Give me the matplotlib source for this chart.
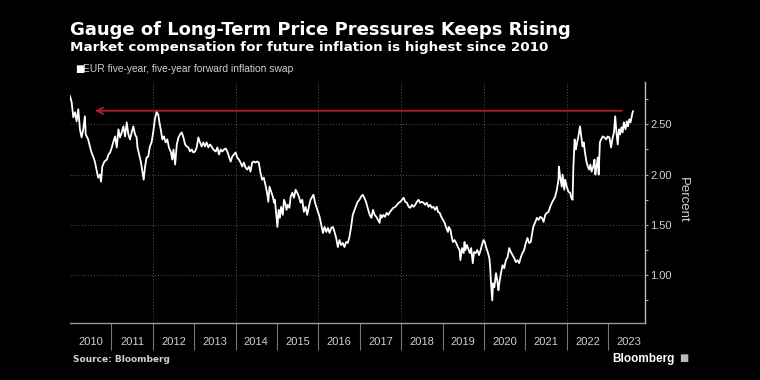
import matplotlib
matplotlib.use('Agg')
import matplotlib.pyplot as plt
from matplotlib.ticker import MultipleLocator, FixedLocator, NullFormatter

# Dados (ano decimal, swap de inflação 5y5y EUR em %)
anos = [
    2010.00, 2010.04, 2010.08, 2010.12, 2010.16, 2010.20, 2010.24, 2010.28, 2010.32, 2010.36,
    2010.38, 2010.44, 2010.48, 2010.52, 2010.56, 2010.60, 2010.64, 2010.68, 2010.72, 2010.75,
    2010.78, 2010.83, 2010.89, 2010.93, 2010.97,
    2011.01, 2011.05, 2011.09, 2011.13, 2011.17, 2011.21, 2011.25, 2011.29, 2011.33, 2011.37,
    2011.41, 2011.45, 2011.49, 2011.53, 2011.57, 2011.61, 2011.63, 2011.67, 2011.71, 2011.75,
    2011.78, 2011.81, 2011.85, 2011.89, 2011.93, 2011.97,
    2012.01, 2012.05, 2012.09, 2012.13, 2012.16, 2012.20, 2012.23, 2012.27, 2012.31, 2012.35,
    2012.39, 2012.44, 2012.47, 2012.50, 2012.54, 2012.58, 2012.62, 2012.66, 2012.70, 2012.74,
    2012.78, 2012.82, 2012.86, 2012.90, 2012.94, 2012.98,
    2013.02, 2013.06, 2013.10, 2013.14, 2013.18, 2013.22, 2013.26, 2013.30, 2013.34, 2013.38,
    2013.42, 2013.46, 2013.52, 2013.56, 2013.60, 2013.64, 2013.68, 2013.72, 2013.76, 2013.80,
    2013.84, 2013.88, 2013.92, 2013.96,
    2014.00, 2014.04, 2014.08, 2014.12, 2014.16, 2014.20, 2014.24, 2014.28, 2014.32, 2014.36,
    2014.40, 2014.44, 2014.48, 2014.52, 2014.56, 2014.60, 2014.64, 2014.68, 2014.72, 2014.76,
    2014.79, 2014.82, 2014.86, 2014.90, 2014.93, 2014.95, 2014.98,
    2015.01, 2015.04, 2015.07, 2015.10, 2015.14, 2015.17, 2015.21, 2015.23, 2015.26, 2015.30,
    2015.33, 2015.37, 2015.41, 2015.45, 2015.49, 2015.53, 2015.57, 2015.61, 2015.65, 2015.69,
    2015.73, 2015.77, 2015.81, 2015.85, 2015.88, 2015.92, 2015.95, 2015.99,
    2016.03, 2016.07, 2016.11, 2016.15, 2016.19, 2016.23, 2016.27, 2016.31, 2016.35, 2016.39,
    2016.43, 2016.47, 2016.51, 2016.55, 2016.59, 2016.63, 2016.67, 2016.71, 2016.75, 2016.79,
    2016.83, 2016.92, 2016.95, 2016.99,
    2017.03, 2017.07, 2017.11, 2017.15, 2017.19, 2017.24, 2017.28, 2017.32, 2017.36, 2017.40,
    2017.44, 2017.48, 2017.50, 2017.53, 2017.57, 2017.61, 2017.65, 2017.69, 2017.73, 2017.77,
    2017.81, 2017.86, 2017.90, 2017.94, 2017.98,
    2018.02, 2018.06, 2018.10, 2018.14, 2018.18, 2018.22, 2018.26, 2018.30, 2018.34, 2018.38,
    2018.42, 2018.46, 2018.50, 2018.54, 2018.58, 2018.62, 2018.66, 2018.70, 2018.74, 2018.78,
    2018.82, 2018.86, 2018.89, 2018.93, 2018.97,
    2019.01, 2019.05, 2019.09, 2019.13, 2019.15, 2019.19, 2019.22, 2019.25, 2019.29, 2019.33,
    2019.37, 2019.41, 2019.43, 2019.47, 2019.51, 2019.53, 2019.55, 2019.59, 2019.63, 2019.66,
    2019.69, 2019.73, 2019.76, 2019.80, 2019.84, 2019.88, 2019.92, 2019.95, 2019.99,
    2020.02, 2020.05, 2020.09, 2020.13, 2020.15, 2020.17, 2020.20, 2020.22, 2020.25, 2020.29,
    2020.32, 2020.35, 2020.37, 2020.41, 2020.45, 2020.49, 2020.53, 2020.57, 2020.61, 2020.65,
    2020.69, 2020.73, 2020.77, 2020.81, 2020.85, 2020.89, 2020.93, 2020.97,
    2021.01, 2021.05, 2021.09, 2021.13, 2021.15, 2021.19, 2021.24, 2021.28, 2021.32, 2021.36,
    2021.40, 2021.44, 2021.48, 2021.52, 2021.56, 2021.60, 2021.64, 2021.68, 2021.72, 2021.76,
    2021.80, 2021.81, 2021.84, 2021.88, 2021.90, 2021.94, 2021.96,
    2022.00, 2022.04, 2022.08, 2022.10, 2022.14, 2022.16, 2022.19, 2022.22, 2022.25, 2022.28,
    2022.32, 2022.35, 2022.38, 2022.41, 2022.44, 2022.48, 2022.51, 2022.54, 2022.57, 2022.60,
    2022.64, 2022.67, 2022.69, 2022.72, 2022.75, 2022.77, 2022.80, 2022.83, 2022.87, 2022.91,
    2022.95, 2022.99,
    2023.03, 2023.07, 2023.10, 2023.14, 2023.17, 2023.20, 2023.23, 2023.26, 2023.29, 2023.32,
    2023.35, 2023.38, 2023.42, 2023.45, 2023.48, 2023.51, 2023.54, 2023.59, 2023.60,
]
swap = [
    2.78, 2.72, 2.57, 2.62, 2.53, 2.65, 2.45, 2.37, 2.45, 2.58,
    2.40, 2.35, 2.28, 2.22, 2.18, 2.13, 2.05, 1.97, 2.00, 1.93,
    2.08, 2.13, 2.15, 2.20, 2.22,
    2.27, 2.33, 2.38, 2.27, 2.45, 2.37, 2.42, 2.48, 2.38, 2.52,
    2.40, 2.35, 2.42, 2.48, 2.40, 2.37, 2.27, 2.20, 2.13, 2.03,
    1.95, 2.07, 2.17, 2.18, 2.28, 2.32,
    2.42, 2.55, 2.62, 2.60, 2.52, 2.43, 2.35, 2.38, 2.32, 2.35,
    2.27, 2.22, 2.15, 2.25, 2.10, 2.30, 2.37, 2.40, 2.42, 2.37,
    2.30, 2.28, 2.27, 2.23, 2.25, 2.22,
    2.23, 2.27, 2.37, 2.32, 2.28, 2.32, 2.28, 2.32, 2.27, 2.30,
    2.28, 2.25, 2.23, 2.27, 2.20, 2.25, 2.23, 2.25, 2.26, 2.23,
    2.18, 2.13, 2.18, 2.20,
    2.22, 2.17, 2.15, 2.12, 2.08, 2.12, 2.07, 2.05, 2.08, 2.03,
    2.12, 2.13, 2.12, 2.13, 2.12, 2.02, 1.95, 1.97, 1.90, 1.82,
    1.73, 1.88, 1.83, 1.78, 1.72, 1.75, 1.62,
    1.48, 1.65, 1.57, 1.68, 1.60, 1.75, 1.70, 1.65, 1.70, 1.67,
    1.78, 1.82, 1.77, 1.85, 1.82, 1.78, 1.72, 1.75, 1.63, 1.68,
    1.60, 1.68, 1.75, 1.78, 1.80, 1.72, 1.68, 1.63,
    1.58, 1.50, 1.42, 1.48, 1.43, 1.47, 1.42, 1.47, 1.48, 1.43,
    1.37, 1.28, 1.35, 1.30, 1.32, 1.28, 1.33, 1.32, 1.38, 1.48,
    1.60, 1.70, 1.73, 1.75,
    1.78, 1.80, 1.77, 1.73, 1.67, 1.60, 1.57, 1.65, 1.60, 1.58,
    1.55, 1.52, 1.60, 1.57, 1.60, 1.58, 1.62, 1.60, 1.63, 1.65,
    1.67, 1.68, 1.70, 1.72, 1.73,
    1.75, 1.77, 1.73, 1.72, 1.68, 1.67, 1.70, 1.68, 1.70, 1.73,
    1.75, 1.72, 1.73, 1.72, 1.70, 1.72, 1.68, 1.70, 1.67, 1.68,
    1.65, 1.68, 1.63, 1.62, 1.58,
    1.55, 1.52, 1.47, 1.43, 1.48, 1.45, 1.38, 1.33, 1.35, 1.32,
    1.28, 1.25, 1.15, 1.27, 1.22, 1.33, 1.25, 1.30, 1.25, 1.22,
    1.27, 1.12, 1.23, 1.22, 1.25, 1.20, 1.25, 1.30, 1.35,
    1.33, 1.28, 1.23, 1.17, 1.08, 0.92, 0.75, 0.92, 0.88, 1.02,
    0.95, 0.85, 0.92, 1.02, 1.10, 1.07, 1.15, 1.18, 1.27, 1.23,
    1.20, 1.17, 1.13, 1.15, 1.12, 1.18, 1.22, 1.25,
    1.32, 1.37, 1.32, 1.33, 1.38, 1.48, 1.53, 1.57, 1.55, 1.58,
    1.57, 1.53, 1.60, 1.62, 1.63, 1.68, 1.72, 1.75, 1.78, 1.85,
    1.95, 2.08, 1.98, 1.88, 2.00, 1.85, 1.95,
    1.88, 1.83, 1.82, 1.78, 1.75, 2.08, 2.35, 2.25, 2.32, 2.38,
    2.48, 2.38, 2.28, 2.32, 2.22, 2.12, 2.08, 2.05, 2.10, 2.03,
    2.08, 2.15, 2.00, 2.08, 2.17, 2.00, 2.32, 2.35, 2.38, 2.37,
    2.35, 2.38,
    2.37, 2.27, 2.35, 2.42, 2.58, 2.42, 2.30, 2.45, 2.40, 2.47,
    2.42, 2.52, 2.45, 2.53, 2.48, 2.55, 2.52, 2.62, 2.63,
]

# Anos do eixo x e marcas do eixo y
anos_eixo = list(range(2010, 2024))
ticks_y = [1.0, 1.5, 2.0, 2.5]

# Seta vermelha: nível atual comparado com 2010
nivel_seta = 2.635
seta_inicio = 2023.33
seta_fim = 2010.60

fundo = '#000000'
cinza = '#d0d0d0'

fig = plt.figure(figsize=(7.6, 3.8), dpi=100, facecolor=fundo)
ax = fig.add_axes([0.0921, 0.15, 0.7566, 0.634], facecolor=fundo)

# Linha da série
ax.plot(anos, swap, color='white', linewidth=1.3, zorder=3)

# Seta de referência
ax.annotate('', xy=(seta_fim, nivel_seta), xytext=(seta_inicio, nivel_seta),
            arrowprops=dict(arrowstyle='->', color='#a31f30', lw=1.4,
                            mutation_scale=11, shrinkA=0, shrinkB=0), zorder=2)

ax.set_xlim(2010.0, 2023.89)
ax.set_ylim(0.525, 2.92)

# Eixo y à direita
ax.yaxis.tick_right()
ax.yaxis.set_major_locator(FixedLocator(ticks_y))
ax.yaxis.set_minor_locator(MultipleLocator(0.25))
ax.set_yticklabels([f'{v:.2f}' for v in ticks_y])
ax.tick_params(axis='y', which='both', colors='#aaaaaa', length=2.5, width=0.8,
               labelcolor=cinza, labelsize=8, pad=1.5)
for lbl in ax.get_yticklabels():
    lbl.set_family('Liberation Sans')

# Eixo x: separadores nos anos e rótulos no meio
ax.xaxis.set_major_locator(FixedLocator(anos_eixo[1:]))
ax.xaxis.set_major_formatter(NullFormatter())
ax.xaxis.set_minor_locator(FixedLocator([a + 0.5 for a in anos_eixo]))
ax.set_xticklabels([str(a) for a in anos_eixo], minor=True)
ax.tick_params(axis='x', which='major', colors='#777777', length=19.5, width=0.8)
ax.tick_params(axis='x', which='minor', length=0, labelcolor=cinza, labelsize=8, pad=10)
for lbl in ax.get_xticklabels(minor=True):
    lbl.set_family('Liberation Sans')

# Grade pontilhada
for v in ticks_y:
    ax.axhline(v, color='#555555', linestyle=(0, (1, 2)), linewidth=0.7, zorder=1)
for a in anos_eixo:
    if a % 2 == 0 and a > 2010:
        ax.axvline(a, color='#555555', linestyle=(0, (1, 2)), linewidth=0.7, zorder=1)

for lado in ['left', 'top']:
    ax.spines[lado].set_visible(False)
ax.spines['bottom'].set_color('#999999')
ax.spines['right'].set_color('#bbbbbb')
ax.spines['bottom'].set_linewidth(1.0)
ax.spines['right'].set_linewidth(1.0)

# Textos
fig.text(70 / 760, 1 - 35 / 380, 'Gauge of Long-Term Price Pressures Keeps Rising',
         color='white', fontsize=13, fontweight='bold', ha='left', va='baseline')
fig.text(70 / 760, 1 - 51 / 380, 'Market compensation for future inflation is highest since 2010',
         color='white', fontsize=9.7, fontweight='bold', ha='left', va='baseline')
fig.text(75 / 760, 1 - 72 / 380, '\u25a0', color='white', fontsize=7, ha='left', va='baseline')
fig.text(83 / 760, 1 - 72 / 380, 'EUR five-year, five-year forward inflation swap',
         color=cinza, fontsize=7.4, ha='left', va='baseline', family='Liberation Sans')
fig.text(683 / 760, 1 - 200 / 380, 'Percent', color=cinza, fontsize=9.5, rotation=270,
         ha='center', va='center', family='Liberation Sans')
fig.text(73 / 760, 1 - 362 / 380, 'Source: Bloomberg', color=cinza, fontsize=6.5,
         fontweight='bold', ha='left', va='baseline')
fig.text(612 / 760, 1 - 362 / 380, 'Bloomberg', color='white', fontsize=8.5,
         fontweight='bold', ha='left', va='baseline', family='Liberation Sans')
fig.text(679 / 760, 1 - 361 / 380, '\u25a0', color='#bbbbbb', fontsize=7,
         ha='left', va='baseline')

plt.savefig('out.png', dpi=100, facecolor=fundo)
